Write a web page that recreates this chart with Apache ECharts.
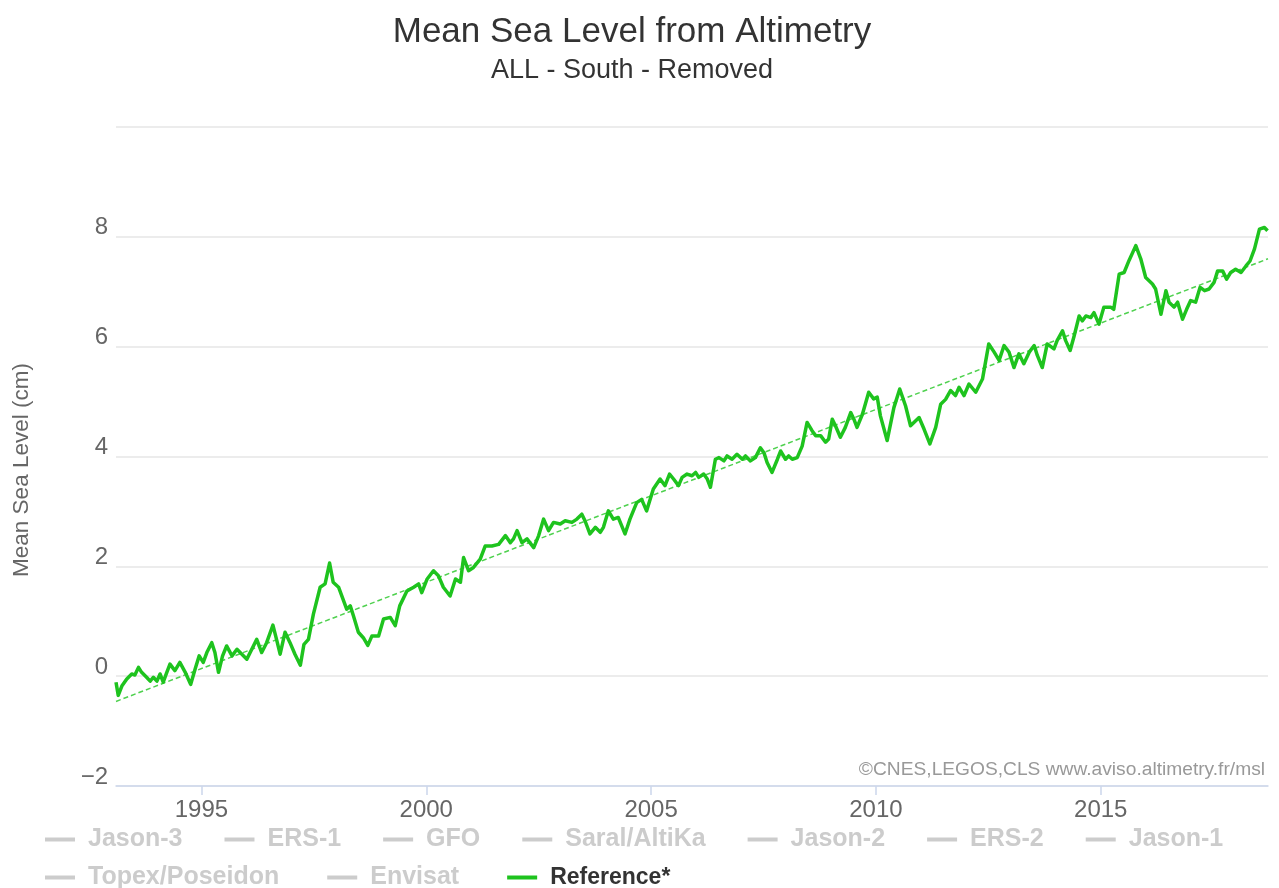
<!DOCTYPE html>
<html>
<head>
<meta charset="utf-8">
<title>Mean Sea Level from Altimetry</title>
<script src="https://cdn.jsdelivr.net/npm/echarts@6/dist/echarts.min.js"></script>
<style>
  html, body, #main { width: 100%; height: 100%; margin: 0; }
  body { background: #ffffff; }
</style>
</head>
<body>
<div id="main"></div>
<script type="text/javascript">
// --- data (years as decimal, msl in cm) ---
var years = [1993.10,1993.15,1993.23,1993.34,1993.45,1993.52,1993.60,1993.67,1993.78,1993.86,1993.93,1994.01,1994.08,1994.15,1994.23,1994.30,1994.41,1994.52,1994.64,1994.76,1994.86,1994.95,
  1995.04,1995.12,1995.23,1995.30,1995.38,1995.47,1995.56,1995.68,1995.79,1995.90,1996.01,1996.12,1996.23,1996.34,1996.45,1996.59,1996.67,1996.75,1996.86,1996.97,
  1997.08,1997.20,1997.28,1997.38,1997.49,1997.64,1997.75,1997.85,1997.93,1998.05,1998.23,1998.31,1998.38,1998.49,1998.60,1998.70,1998.79,1998.94,
  1999.05,1999.20,1999.31,1999.41,1999.57,1999.72,1999.83,1999.90,2000.02,2000.16,2000.27,2000.38,2000.53,2000.65,2000.76,2000.83,2000.94,
  2001.05,2001.20,2001.31,2001.46,2001.61,2001.76,2001.87,2001.94,2002.02,2002.13,2002.24,2002.39,2002.50,2002.61,2002.72,2002.83,2002.98,
  2003.09,2003.24,2003.35,2003.46,2003.53,2003.64,2003.76,2003.87,2003.94,2004.05,2004.16,2004.27,2004.42,2004.53,2004.68,2004.79,2004.90,
  2005.05,2005.20,2005.31,2005.41,2005.50,2005.61,2005.69,2005.80,2005.91,2005.99,2006.06,2006.17,2006.25,2006.32,2006.43,2006.51,2006.62,2006.69,2006.80,2006.91,
  2007.03,2007.10,2007.21,2007.32,2007.43,2007.51,2007.58,2007.69,2007.81,2007.88,2007.99,2008.06,2008.14,2008.25,2008.36,2008.47,2008.58,2008.66,2008.77,2008.88,2008.95,
  2009.03,2009.10,2009.21,2009.32,2009.44,2009.51,2009.58,2009.70,2009.84,2009.95,2010.03,2010.10,2010.25,2010.40,2010.53,2010.66,2010.77,2010.96,
  2011.07,2011.20,2011.33,2011.44,2011.55,2011.66,2011.77,2011.85,2011.96,2012.07,2012.22,2012.37,2012.51,2012.63,2012.74,2012.85,2012.96,
  2013.07,2013.18,2013.29,2013.41,2013.52,2013.59,2013.70,2013.81,2013.96,2014.03,2014.15,2014.22,2014.32,2014.41,2014.52,2014.59,2014.67,2014.78,2014.85,2014.96,
  2015.07,2015.22,2015.29,2015.41,2015.52,2015.63,2015.78,2015.89,2016.00,2016.15,2016.22,2016.34,2016.45,2016.52,2016.63,2016.71,2016.82,2016.91,
  2017.00,2017.11,2017.21,2017.31,2017.41,2017.52,2017.60,2017.71,2017.80,2017.89,2018.00,2018.12,2018.23,2018.32,2018.42,2018.53,2018.64,2018.71];

var msl = [-0.11,-0.35,-0.18,-0.05,0.04,0.02,0.16,0.07,-0.02,-0.09,-0.02,-0.09,0.04,-0.11,0.07,0.22,0.10,0.25,0.07,-0.15,0.13,0.37,
  0.25,0.43,0.61,0.43,0.07,0.37,0.55,0.37,0.49,0.40,0.31,0.49,0.67,0.43,0.61,0.93,0.67,0.40,0.80,0.61,
  0.40,0.20,0.58,0.67,1.13,1.62,1.68,2.06,1.71,1.62,1.22,1.28,1.10,0.80,0.70,0.56,0.73,0.73,
  1.04,1.07,0.92,1.28,1.55,1.62,1.68,1.52,1.77,1.92,1.83,1.62,1.46,1.77,1.71,2.16,1.92,
  1.98,2.13,2.37,2.37,2.40,2.56,2.43,2.50,2.65,2.43,2.50,2.34,2.56,2.86,2.65,2.80,2.77,
  2.83,2.80,2.86,2.95,2.83,2.59,2.71,2.62,2.71,3.01,2.86,2.89,2.59,2.86,3.16,3.22,3.01,
  3.41,3.59,3.47,3.68,3.59,3.47,3.62,3.68,3.65,3.71,3.62,3.68,3.59,3.44,3.95,3.98,3.92,4.01,3.95,4.04,
  3.95,4.01,3.92,3.98,4.16,4.07,3.89,3.71,3.95,4.10,3.95,4.01,3.95,3.98,4.19,4.62,4.47,4.38,4.38,4.26,4.32,
  4.68,4.56,4.35,4.53,4.80,4.68,4.53,4.77,5.17,5.05,5.08,4.74,4.29,4.89,5.23,4.92,4.56,4.71,
  4.50,4.23,4.53,4.95,5.04,5.20,5.11,5.26,5.11,5.32,5.17,5.41,6.05,5.90,5.75,6.02,5.90,
  5.62,5.87,5.69,5.90,6.02,5.84,5.62,6.05,5.96,6.11,6.29,6.11,5.93,6.20,6.56,6.47,6.56,6.53,6.62,6.41,
  6.72,6.72,6.68,7.32,7.35,7.57,7.84,7.60,7.26,7.14,7.05,6.59,7.02,6.81,6.72,6.81,6.50,6.68,
  6.84,6.81,7.08,7.02,7.05,7.17,7.38,7.38,7.23,7.35,7.41,7.35,7.47,7.56,7.78,8.14,8.17,8.11];

// linear trend, end points
var trendYears = [1993.1, 2018.72];
var trendVals = [-0.46, 7.6];

var xTicks = [1995, 2000, 2005, 2010, 2015];
var legendRow1 = ['Jason-3', 'ERS-1', 'GFO', 'Saral/AltiKa', 'Jason-2', 'ERS-2', 'Jason-1'];
var legendRow2 = ['Topex/Poseidon', 'Envisat', 'Reference*'];

var FONT = "'Liberation Sans', Arial, sans-serif";

function pairs(xs, ys) {
  var out = [];
  for (var i = 0; i < xs.length; i++) out.push([xs[i], ys[i]]);
  return out;
}

var hidden = {};
legendRow1.concat(legendRow2).forEach(function (n) {
  if (n !== 'Reference*') hidden[n] = false;
});

var series = [];
// hidden missions: only shown (greyed) in the legend
legendRow1.concat(legendRow2).forEach(function (n) {
  if (n === 'Reference*') return;
  series.push({ name: n, type: 'line', data: [], color: '#999999' });
});
series.push({
  name: 'trend',
  type: 'line',
  data: pairs(trendYears, trendVals),
  showSymbol: false,
  silent: true,
  z: 1,
  lineStyle: { color: '#4fd14f', width: 1.5, type: [5, 3] },
  itemStyle: { color: '#4fd14f' }
});
series.push({
  name: 'Reference*',
  type: 'line',
  data: pairs(years, msl),
  showSymbol: false,
  z: 3,
  color: '#1ec31e',
  lineStyle: { color: '#1ec31e', width: 3.5, join: 'round' }
});

function legendFor(names, top, gap) {
  return {
    data: names,
    left: 40,
    top: top,
    orient: 'horizontal',
    icon: 'rect',
    itemWidth: 30,
    itemHeight: 4,
    itemGap: gap,
    inactiveColor: '#cccccc',
    selected: hidden,
    formatter: function (name) {
      return name === 'Reference*' ? '{b|' + name + '}' : '{n|' + name + '}';
    },
    textStyle: {
      fontFamily: FONT,
      fontSize: 25,
      color: '#333333',
      fontWeight: 'bold',
      padding: [0, 0, 0, 8],
      rich: {
        n: { fontFamily: FONT, fontSize: 25, fontWeight: 'bold' },
        b: { fontFamily: FONT, fontSize: 23, fontWeight: 'bold', color: '#333333' }
      }
    }
  };
}

var chart = echarts.init(document.getElementById('main'));
var option = {
  backgroundColor: '#ffffff',
  animation: false,
  legend: [legendFor(legendRow1, 822, 42), legendFor(legendRow2, 860, 48)],
  grid: { left: 116, right: 11, top: 127, bottom: 102, containLabel: false },
  xAxis: {
    type: 'value',
    min: 1993.1,
    max: 2018.72,
    axisLine: { show: true, onZero: false, lineStyle: { color: '#ccd6eb', width: 1.5 } },
    axisTick: { show: true, customValues: xTicks, length: 9, lineStyle: { color: '#ccd6eb', width: 1.5 } },
    axisLabel: {
      customValues: xTicks,
      margin: 12,
      fontFamily: FONT,
      fontSize: 24,
      color: '#666666',
      formatter: function (v) { return String(v); }
    },
    splitLine: { show: false }
  },
  yAxis: {
    type: 'value',
    min: -2,
    max: 10,
    interval: 2,
    axisLine: { show: false },
    axisTick: { show: false },
    axisLabel: {
      margin: 8,
      fontFamily: FONT,
      fontSize: 24,
      lineHeight: 18,
      color: '#666666',
      verticalAlign: 'bottom',
      formatter: function (v) {
        if (v === 10) return '';
        return String(v).replace('-', '\u2212');
      }
    },
    splitLine: { lineStyle: { color: '#e6e6e6', width: 1.5 } }
  },
  graphic: [
    {
      type: 'text',
      x: 632,
      y: 32,
      style: {
        text: 'Mean Sea Level from Altimetry',
        font: '35px ' + FONT,
        fill: '#333333',
        align: 'center',
        verticalAlign: 'middle'
      }
    },
    {
      type: 'text',
      x: 632,
      y: 71,
      style: {
        text: 'ALL - South - Removed',
        font: '27px ' + FONT,
        fill: '#333333',
        align: 'center',
        verticalAlign: 'middle'
      }
    },
    {
      type: 'text',
      x: 22,
      y: 470,
      rotation: Math.PI / 2,
      style: {
        text: 'Mean Sea Level (cm)',
        font: '22.5px ' + FONT,
        fill: '#666666',
        align: 'center',
        verticalAlign: 'middle'
      }
    },
    {
      type: 'text',
      right: 14,
      top: 760,
      style: {
        text: '\u00a9CNES,LEGOS,CLS www.aviso.altimetry.fr/msl',
        font: '19.2px ' + FONT,
        fill: '#999999'
      }
    }
  ],
  series: series
};
chart.setOption(option);
</script>
</body>
</html>
